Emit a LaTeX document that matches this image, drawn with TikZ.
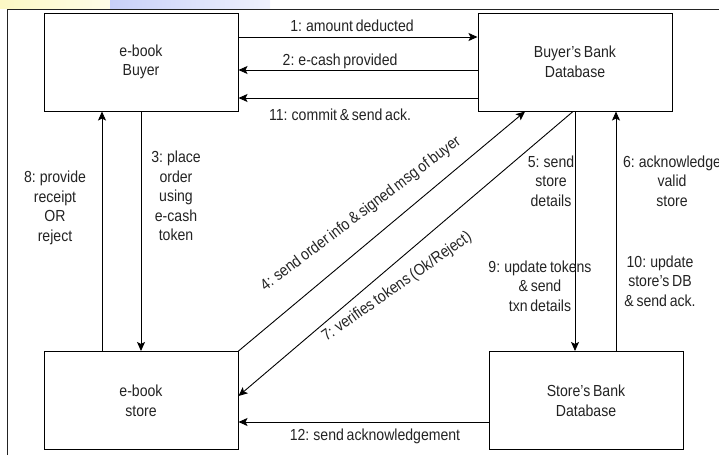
\documentclass[tikz,border=0pt]{standalone}
\usepackage{fontspec}
\setmainfont{Liberation Sans}[FakeStretch=0.88, WordSpace=0.7]
\usetikzlibrary{arrows.meta}
\definecolor{inkgray}{RGB}{35,35,35}
\definecolor{bandyellow}{RGB}{252,248,196}
\definecolor{bandblue}{RGB}{200,208,248}
\tikzset{
  box/.style={draw, line width=1pt, minimum width=194pt, minimum height=98pt, align=center, inner sep=0pt, text=inkgray},
  msg/.style={-{Stealth[length=9pt,width=8pt,inset=2pt]}, line width=0.9pt},
  lbl/.style={align=center, inner sep=0pt, text=inkgray}
}
\begin{document}
\begin{tikzpicture}[x=1pt, y=-1pt, font=\fontsize{16}{19.6}\selectfont]
\useasboundingbox (0,0) rectangle (719,455);

% slide band and frame
\shade[left color=bandyellow, right color=bandyellow!40] (0,0) rectangle (110,8);
\shade[left color=bandblue, right color=bandblue!30] (110,0) rectangle (270,8);
\draw[line width=1pt, inkgray] (7,455) -- (7,9) -- (719,9);

\node[box] (buyer) at (141,62) {e-book\\Buyer};
\node[box] (bbank) at (575,62) {Buyer's Bank\\Database};
\node[box] (store) at (141,400.5) {e-book\\store};
\node[box] (sbank) at (586,400.5) {Store's Bank\\Database};

\draw[msg] ([yshift=25pt]buyer.east) -- ([yshift=25pt]bbank.west)
  node[lbl, pos=.475, above=5pt] {1: amount deducted};
\draw[msg] ([yshift=-8pt]bbank.west) -- ([yshift=-8pt]buyer.east)
  node[lbl, pos=.575, above=0.5pt] {2: e-cash provided};
\draw[msg] ([yshift=-36pt]bbank.west) -- ([yshift=-36pt]buyer.east)
  node[lbl, pos=.575, below=10pt] {11: commit \& send ack.};

\draw[msg] (buyer.south) -- (store.north);
\draw[msg] ([xshift=-39pt]store.north) -- ([xshift=-39pt]buyer.south);
\draw[msg] (store.north east) -- ([xshift=-50pt]bbank.south);
\draw[msg] ([xshift=-2pt]bbank.south) -- ([yshift=4.5pt]store.east);
\draw[msg] (bbank.south) -- (bbank.south |- sbank.north);
\draw[msg] ([xshift=30pt]sbank.north) -- ([xshift=30pt]sbank.north |- bbank.south);
\draw[msg] ([yshift=-21.5pt]sbank.west) -- ([yshift=-21.5pt]store.east)
  node[lbl, pos=.454, below=6pt] {12: send acknowledgement};

\node[lbl] (l3) at (176,196) {3: place\\order\\using\\e-cash\\token};
\node[lbl] (l8) at (55,208) {8: provide\\receipt\\OR\\reject};
\node[lbl] (l5) at (551,181) {5: send\\store\\details};
\node[lbl] (l6) at (672,181) {6: acknowledge\\valid\\store};
\node[lbl] (l9) at (540,286) {9: update tokens\\\& send\\txn details};
\node[lbl] (l10) at (660,281) {10: update\\store's DB\\\& send ack.};
\node[lbl, rotate=37] (l4) at (361,214) {4: send order info \& signed msg of buyer};
\node[lbl, rotate=35] (l7) at (397,287) {7: verifies tokens (Ok/Reject)};
\end{tikzpicture}
\end{document}
